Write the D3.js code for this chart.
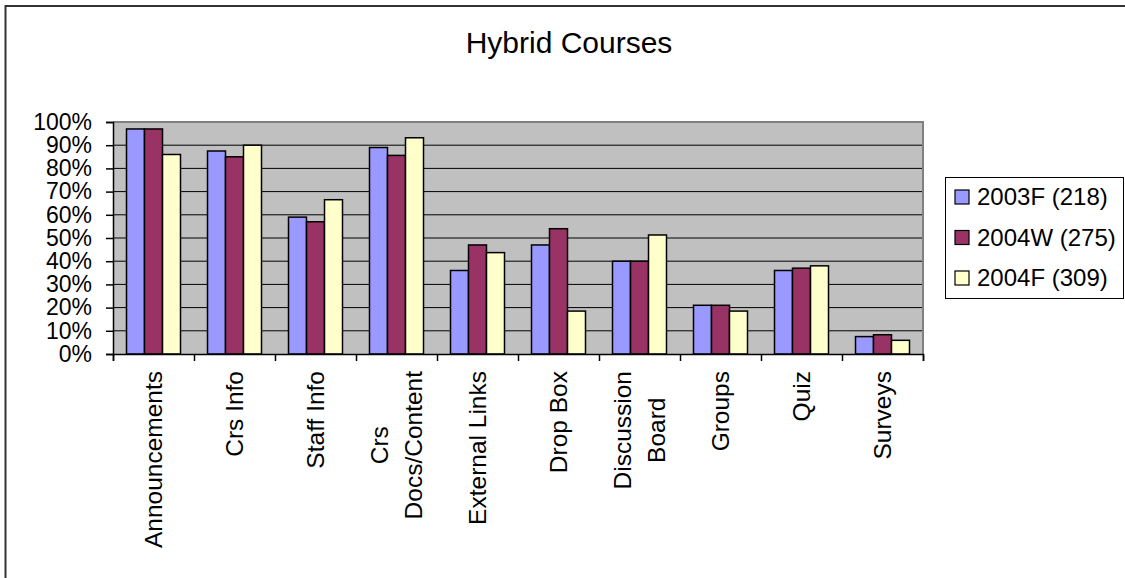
<!DOCTYPE html>
<html>
<head>
<meta charset="utf-8">
<script src="https://cdn.jsdelivr.net/npm/d3@7"></script>
<style>
  body { margin: 0; background: #fff; }
  svg { display: block; font-family: "Liberation Sans", Arial, sans-serif; }
</style>
</head>
<body>
<svg id="chart" width="1125" height="578"></svg>
<script>
// categories along the x axis ("\n" marks where Excel wrapped the label)
const categories = ["Announcements", "Crs Info", "Staff Info", "Crs\nDocs/Content", "External Links",
    "Drop Box", "Discussion\nBoard", "Groups", "Quiz", "Surveys"];

const seriesNames = ["2003F (218)", "2004W (275)", "2004F (309)"];
const seriesColors = ["#9999FF", "#993366", "#FFFFCC"];

// share of hybrid courses using each tool
const s2003F = [0.97, 0.875, 0.59, 0.89, 0.36, 0.47, 0.40, 0.21, 0.36, 0.075];
const s2004W = [0.97, 0.85, 0.57, 0.856, 0.47, 0.54, 0.40, 0.21, 0.37, 0.083];
const s2004F = [0.86, 0.90, 0.665, 0.932, 0.437, 0.185, 0.513, 0.185, 0.38, 0.059];

const yTicks = [0, 0.1, 0.2, 0.3, 0.4, 0.5, 0.6, 0.7, 0.8, 0.9, 1];

const seriesValues = [s2003F, s2004W, s2004F];

const svg = d3.select("#chart");

// outer chart frame (runs off the right/bottom edge like the source)
svg.append("rect")
    .attr("x", 5.5).attr("y", 6)
    .attr("width", 1140).attr("height", 600)
    .attr("fill", "none").attr("stroke", "#333").attr("stroke-width", 2);

const plot = {left: 113, right: 923, top: 122, bottom: 354};

const x = d3.scaleBand().domain(categories).range([plot.left, plot.right]);
const xs = d3.scaleBand().domain(seriesNames).range([0, x.bandwidth()])
    .paddingInner(0).paddingOuter(0.75);
const y = d3.scaleLinear().domain([0, 1]).range([plot.bottom, plot.top]);

// plot background
svg.append("rect")
    .attr("x", plot.left).attr("y", plot.top)
    .attr("width", plot.right - plot.left).attr("height", plot.bottom - plot.top)
    .attr("fill", "#C0C0C0");

// gridlines
svg.append("g")
    .selectAll("line")
    .data(yTicks.filter(d => d > 0 && d < 1))
    .join("line")
    .attr("x1", plot.left).attr("x2", plot.right)
    .attr("y1", d => y(d)).attr("y2", d => y(d))
    .attr("stroke", "#000").attr("stroke-width", 1);

// plot border (top + right)
svg.append("path")
    .attr("d", `M${plot.left},${plot.top}H${plot.right}V${plot.bottom}`)
    .attr("fill", "none").attr("stroke", "#808080").attr("stroke-width", 2);

// bars
const groups = svg.append("g")
    .selectAll("g")
    .data(categories)
    .join("g")
    .attr("transform", d => `translate(${x(d)},0)`);

groups.selectAll("rect")
    .data((c, i) => seriesNames.map((s, j) => ({s, j, v: seriesValues[j][i]})))
    .join("rect")
    .attr("x", d => xs(d.s))
    .attr("width", xs.bandwidth())
    .attr("y", d => y(d.v))
    .attr("height", d => y(0) - y(d.v))
    .attr("fill", d => seriesColors[d.j])
    .attr("stroke", "#000")
    .attr("stroke-width", 1.5);

// y axis
const yAxis = svg.append("g")
    .attr("transform", `translate(${plot.left},0)`)
    .call(d3.axisLeft(y).tickValues(yTicks).tickFormat(d3.format(".0%"))
        .tickSize(7).tickPadding(14));
yAxis.selectAll("text").attr("font-size", 23).attr("fill", "#000")
    .attr("font-family", "Liberation Sans, Arial, sans-serif");
yAxis.selectAll("line, path").attr("stroke", "#000").attr("stroke-width", 1.5);

// x axis: ticks sit between the categories
const xEdge = d3.scaleLinear().domain([0, categories.length]).range([plot.left, plot.right]);
const xAxis = svg.append("g")
    .attr("transform", `translate(0,${plot.bottom})`)
    .call(d3.axisBottom(xEdge).tickValues(d3.range(categories.length + 1))
        .tickFormat("").tickSize(7).tickSizeOuter(7));
xAxis.selectAll("line, path").attr("stroke", "#000").attr("stroke-width", 1.5);

// rotated category labels
const lineGap = 34;
const labels = svg.append("g")
    .selectAll("g")
    .data(categories)
    .join("g")
    .attr("transform", d => `translate(${x(d) + x.bandwidth() / 2},371) rotate(-90)`);

labels.each(function(d) {
    const g = d3.select(this);
    const lines = d.split("\n");
    const texts = lines.map((t, i) => g.append("text")
        .attr("font-size", 24.5)
        .attr("fill", "#000")
        .attr("dy", "0.35em")
        .attr("y", (i - (lines.length - 1) / 2) * lineGap)
        .text(t));
    const w = d3.max(texts, t => t.node().getComputedTextLength());
    texts.forEach(t => t.attr("text-anchor", "middle").attr("x", -w / 2));
});

// title
svg.append("text")
    .attr("x", 569).attr("y", 53)
    .attr("text-anchor", "middle")
    .attr("font-size", 30)
    .text("Hybrid Courses");

// legend
const legend = svg.append("g");
legend.append("rect")
    .attr("x", 945.5).attr("y", 177.5)
    .attr("width", 178).attr("height", 121)
    .attr("fill", "#fff").attr("stroke", "#000").attr("stroke-width", 1);

const items = legend.selectAll("g.item")
    .data(seriesNames)
    .join("g")
    .attr("class", "item")
    .attr("transform", (d, i) => `translate(955,${197 + i * 40.5})`);

items.append("rect")
    .attr("x", 0).attr("y", -7)
    .attr("width", 14).attr("height", 14)
    .attr("fill", (d, i) => seriesColors[i])
    .attr("stroke", "#000").attr("stroke-width", 1.2);

items.append("text")
    .attr("x", 22).attr("dy", "0.35em")
    .attr("font-size", 24)
    .text(d => d);
</script>
</body>
</html>
